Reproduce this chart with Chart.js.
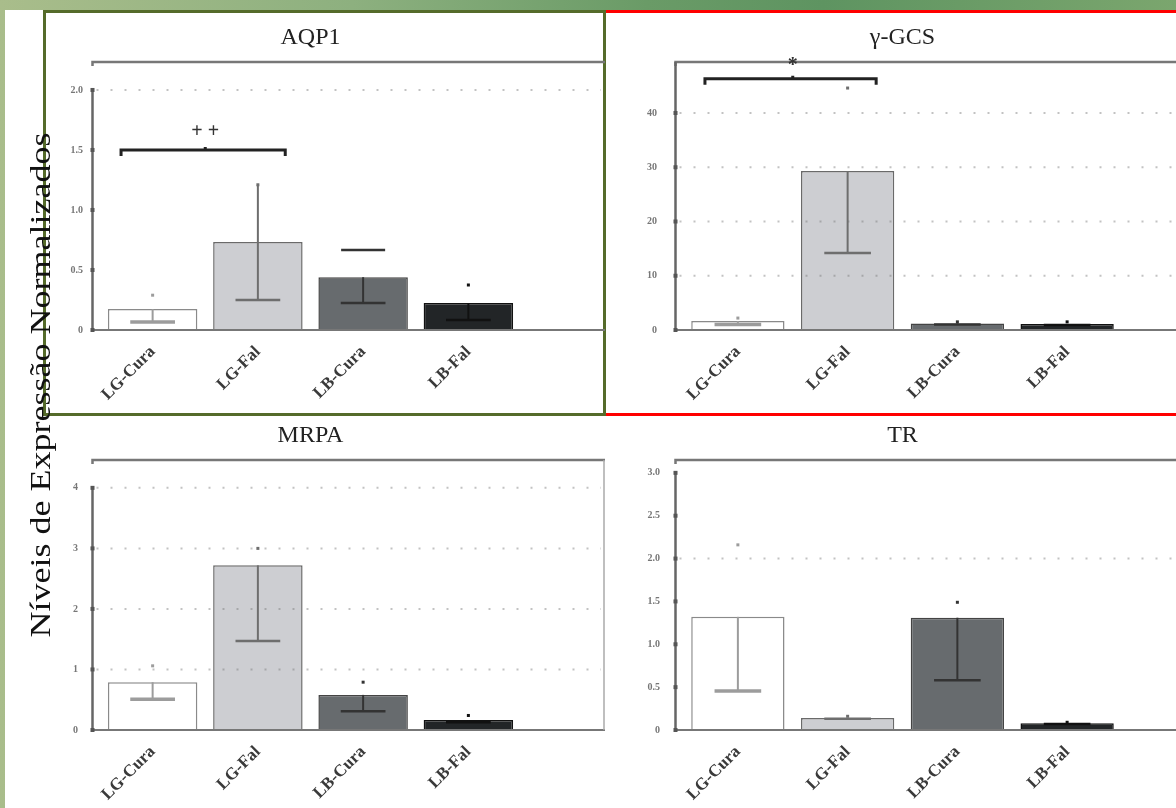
<!DOCTYPE html>
<html>
<head>
<meta charset="utf-8">
<script src="https://cdn.jsdelivr.net/npm/chart.js@4/dist/chart.umd.min.js"></script>
<style>
  html, body { margin: 0; padding: 0; }
  body {
    width: 1176px; height: 808px; position: relative; overflow: hidden;
    background: linear-gradient(90deg, #a9bd8b 0%, #8db07f 30%, #6a9b67 55%, #5e9461 70%, #7ba66e 100%);
  }
  #sheet { position: absolute; left: 5px; top: 10px; width: 1171px; height: 798px; background: #fff; }
  .box { position: absolute; box-sizing: border-box; }
  #box1 { left: 43px; top: 10px; width: 563px; height: 406px; border: 3px solid #556b2a; }
  #box2 { left: 606px; top: 10px; width: 580px; height: 406px; border: 3px solid #ff0000; border-left: none; }
  canvas { position: absolute; }
  #c1 { left: 50px; top: 14px; }
  #c2 { left: 608px; top: 14px; }
  #c3 { left: 50px; top: 418px; }
  #c4 { left: 608px; top: 418px; }
  #ylabel {
    position: absolute; left: -260px; top: 367px; width: 600px; height: 36px;
    line-height: 36px; text-align: center; transform: rotate(-90deg) scaleX(1.2);
    font-family: 'Liberation Serif', serif; font-size: 30px; color: #111;
    z-index: 5;
  }
</style>
</head>
<body>
<div id="sheet"></div>
<div class="box" id="box1"></div>
<div class="box" id="box2"></div>
<canvas id="c1" width="555" height="398"></canvas>
<canvas id="c2" width="568" height="398"></canvas>
<canvas id="c3" width="555" height="390"></canvas>
<canvas id="c4" width="568" height="390"></canvas>
<div id="ylabel">Níveis de Expressão Normalizados</div>
<script>
// groups
const groups = ['LG-Cura', 'LG-Fal', 'LB-Cura', 'LB-Fal'];

// AQP1
const aqp1Mean = [0.175, 0.733, 0.44, 0.225];
const aqp1Low = [0.067, 0.25, 0.225, 0.083];
const aqp1High = [0.29, 1.21, 0.667, 0.375];
const aqp1Ticks = [0, 0.5, 1, 1.5, 2];
const aqp1Max = 2.233;

// gamma-GCS
const gcsMean = [1.66, 29.3, 1.2, 1.1];
const gcsLow = [1.0, 14.2, 1.0, 0.9];
const gcsHigh = [2.2, 44.6, 1.5, 1.5];
const gcsTicks = [0, 10, 20, 30, 40];
const gcsMax = 49.4;

// MRPA
const mrpaMean = [0.79, 2.72, 0.58, 0.165];
const mrpaLow = [0.51, 1.47, 0.31, 0.13];
const mrpaHigh = [1.06, 3.0, 0.79, 0.24];
const mrpaTicks = [0, 1, 2, 3, 4];
const mrpaMax = 4.46;

// TR
const trMean = [1.32, 0.14, 1.31, 0.08];
const trLow = [0.455, 0.13, 0.58, 0.07];
const trHigh = [2.16, 0.16, 1.49, 0.09];
const trTicks = [0, 0.5, 1, 1.5, 2, 2.5, 3];
const trMax = 3.15;

// significance marks: [from, to, value, text]
const aqp1Sig = [0, 1, 1.5, '+ +'];
const gcsSig = [0, 1, 46.3, '*'];

const barFill = ['#ffffff', '#cdced2', '#676b6e', '#222527'];
const barEdge = ['#8a8a8a', '#6a6a6a', '#444', '#111'];
const errColor = ['#9c9c9c', '#6e6e6e', '#333', '#111'];

const panelPlugin = {
  id: 'panel',
  afterDatasetsDraw(chart, args, o) {
    const { ctx, chartArea: a, scales: { x, y } } = chart;
    const ax = a.left - 7.5;
    const right = chart.width;
    ctx.save();

    // dotted grid
    ctx.strokeStyle = 'rgba(120,120,120,0.45)';
    ctx.lineWidth = 2;
    ctx.setLineDash([2, 12]);
    o.grid.forEach(v => {
      const py = y.getPixelForValue(v);
      ctx.beginPath(); ctx.moveTo(ax + 4, py); ctx.lineTo(right - 4, py); ctx.stroke();
    });
    ctx.setLineDash([]);

    // frame
    ctx.strokeStyle = '#777';
    ctx.lineWidth = 2.5;
    ctx.beginPath(); ctx.moveTo(ax, a.top + 4); ctx.lineTo(ax, a.top); ctx.lineTo(right, a.top); ctx.stroke();
    ctx.lineWidth = 2;
    ctx.beginPath(); ctx.moveTo(ax, a.bottom); ctx.lineTo(right, a.bottom); ctx.stroke();
    const topTick = o.axisFull ? a.top : y.getPixelForValue(o.ticks[o.ticks.length - 1]);
    ctx.strokeStyle = '#666';
    ctx.lineWidth = 2.5;
    ctx.beginPath(); ctx.moveTo(ax, a.bottom); ctx.lineTo(ax, topTick); ctx.stroke();
    ctx.fillStyle = '#555';
    o.ticks.forEach(v => {
      const py = y.getPixelForValue(v);
      ctx.fillRect(ax - 2, py - 2, 4, 4);
    });
    if (o.rightEdge) {
      ctx.strokeStyle = '#aaa'; ctx.lineWidth = 1.5;
      ctx.beginPath(); ctx.moveTo(right - 1, a.top); ctx.lineTo(right - 1, a.bottom); ctx.stroke();
    }

    // error bars
    const meta = chart.getDatasetMeta(0);
    o.mean.forEach((m, i) => {
      const px = x.getPixelForValue(i);
      const cap = meta.data[i].width * 0.5;
      const pm = y.getPixelForValue(m);
      const pl = y.getPixelForValue(o.low[i]);
      const ph = y.getPixelForValue(o.high[i]);
      ctx.strokeStyle = errColor[i];
      ctx.fillStyle = errColor[i];
      ctx.lineWidth = 2;
      ctx.beginPath(); ctx.moveTo(px, o.fullWhisker[i] ? ph : pm); ctx.lineTo(px, pl); ctx.stroke();
      ctx.lineWidth = i === 0 ? 3.5 : 2.5;
      ctx.beginPath(); ctx.moveTo(px - cap / 2, pl); ctx.lineTo(px + cap / 2, pl); ctx.stroke();
      const hc = o.highCap[i];
      if (hc) {
        ctx.lineWidth = 2.5;
        ctx.beginPath(); ctx.moveTo(px - hc / 2, ph); ctx.lineTo(px + hc / 2, ph); ctx.stroke();
      } else {
        ctx.fillRect(px - 1.5, ph - 1.5, 3, 3);
      }
    });
    ctx.restore();
  },
  afterDraw(chart, args, o) {
    const { ctx, chartArea: a, scales: { x, y } } = chart;
    ctx.save();
    ctx.fillStyle = '#222';
    ctx.font = "24px 'Liberation Serif'";
    ctx.textAlign = 'center';
    ctx.textBaseline = 'middle';
    ctx.fillText(o.title, (a.left + a.right) / 2, a.top - 24);

    if (o.sig) {
      const [from, to, v, txt] = o.sig;
      const cw = x.getPixelForValue(1) - x.getPixelForValue(0);
      const x0 = x.getPixelForValue(from) - cw * 0.3;
      const x1 = x.getPixelForValue(to) + cw * 0.26;
      const py = y.getPixelForValue(v);
      const xm = (x.getPixelForValue(from) + x.getPixelForValue(to)) / 2;
      ctx.strokeStyle = '#222';
      ctx.lineWidth = 3;
      ctx.beginPath();
      ctx.moveTo(x0, py + 6); ctx.lineTo(x0, py); ctx.lineTo(x1, py); ctx.lineTo(x1, py + 6);
      ctx.moveTo(xm, py); ctx.lineTo(xm, py - 3);
      ctx.stroke();
      ctx.fillStyle = '#333';
      ctx.font = "bold 20px 'Liberation Serif'";
      ctx.fillText(txt, xm, py - (txt === '*' ? 13 : 18));
    }
    ctx.restore();
  }
};

function makeChart(id, cfg) {
  new Chart(document.getElementById(id), {
    type: 'bar',
    data: {
      labels: groups,
      datasets: [{
        data: cfg.mean,
        backgroundColor: barFill,
        borderColor: barEdge,
        borderWidth: 1.5,
        barPercentage: 0.85,
        categoryPercentage: 1
      }]
    },
    options: {
      responsive: false,
      animation: false,
      layout: { padding: { top: cfg.padTop, right: cfg.padRight, left: 0, bottom: 0 } },
      scales: {
        x: {
          grid: { display: false },
          border: { display: false },
          ticks: {
            color: '#3a3a3a',
            font: { family: 'Liberation Serif', size: 17, weight: 'bold' },
            maxRotation: 45,
            minRotation: 45,
            padding: 4
          },
          afterFit: s => { s.height = cfg.xHeight; }
        },
        y: {
          min: 0,
          max: cfg.max,
          grid: { display: false, drawTicks: false },
          border: { display: false },
          ticks: {
            color: '#777',
            padding: cfg.tickPad,
            font: { family: 'Liberation Serif', size: 10, weight: 'bold' }
          },
          afterBuildTicks: s => { s.ticks = cfg.ticks.map(v => ({ value: v })); },
          afterFit: s => { s.width = cfg.yWidth; }
        }
      },
      plugins: {
        legend: { display: false },
        tooltip: { enabled: false },
        panel: {
          title: cfg.title,
          ticks: cfg.ticks,
          grid: cfg.grid,
          mean: cfg.mean,
          low: cfg.low,
          high: cfg.high,
          fullWhisker: cfg.fullWhisker || [false, false, false, false],
          highCap: cfg.highCap || [0, 0, 0, 0],
          sig: cfg.sig,
          axisFull: cfg.axisFull,
          rightEdge: cfg.rightEdge
        }
      }
    },
    plugins: [panelPlugin]
  });
}

window.addEventListener('DOMContentLoaded', () => {
  makeChart('c1', {
    title: 'AQP1', mean: aqp1Mean, low: aqp1Low, high: aqp1High,
    ticks: aqp1Ticks, max: aqp1Max, grid: [2], sig: aqp1Sig,
    fullWhisker: [false, true, false, false], highCap: [0, 0, 44, 0],
    padTop: 48, padRight: 84, xHeight: 82, yWidth: 50, tickPad: 17
  });
  makeChart('c2', {
    title: 'γ-GCS', mean: gcsMean, low: gcsLow, high: gcsHigh,
    ticks: gcsTicks, max: gcsMax, grid: [10, 20, 30, 40], sig: gcsSig, axisFull: true,
    padTop: 48, padRight: 54, xHeight: 82, yWidth: 75, tickPad: 26
  });
  makeChart('c3', {
    title: 'MRPA', mean: mrpaMean, low: mrpaLow, high: mrpaHigh,
    ticks: mrpaTicks, max: mrpaMax, grid: [1, 2, 3, 4], rightEdge: true,
    padTop: 42, padRight: 84, xHeight: 78, yWidth: 50, tickPad: 22
  });
  makeChart('c4', {
    title: 'TR', mean: trMean, low: trLow, high: trHigh,
    ticks: trTicks, max: trMax, grid: [2],
    padTop: 42, padRight: 54, xHeight: 78, yWidth: 75, tickPad: 23
  });
});
</script>
</body>
</html>
